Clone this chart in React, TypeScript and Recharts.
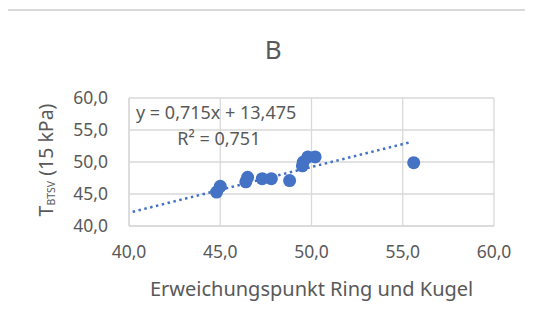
import React from 'react';
import { CartesianGrid, Scatter, ScatterChart, XAxis, YAxis } from 'recharts';

const erweichungspunkt = [44.8, 45.0, 46.4, 46.5, 47.3, 47.8, 48.8, 49.5, 49.55, 49.8, 50.2, 55.6];
const tBtsv = [45.3, 46.2, 46.9, 47.6, 47.4, 47.4, 47.1, 49.4, 50.0, 50.8, 50.8, 49.9];
const axisTicks = [40, 45, 50, 55, 60];
const trendSlope = 0.715;
const trendIntercept = 13.475;
const trendRange = [40.2, 55.5];

const points = erweichungspunkt.map((x, i) => ({ x, y: tBtsv[i] }));
const trend = trendRange.map((x) => ({ x, y: trendSlope * x + trendIntercept }));

const BLUE = '#4472c4';
const GRID = '#d9d9d9';
const TEXT = '#595959';
const FONT = '"Noto Sans", sans-serif';

const fmt = (v: number) => v.toFixed(1).replace('.', ',');

const YTick = (props: any) => (
  <text x={props.x} y={props.y + 6.2} textAnchor="end" fill={TEXT} fontSize={17.5} fontFamily={FONT}>
    {fmt(props.payload.value)}
  </text>
);

const XTick = (props: any) => (
  <text x={props.x} y={props.y + 32} textAnchor="middle" fill={TEXT} fontSize={17.5} fontFamily={FONT}>
    {fmt(props.payload.value)}
  </text>
);

const Dot = (props: any) => <circle cx={props.cx} cy={props.cy} r={6.5} fill={BLUE} />;

export default function App() {
  return (
    <div style={{ position: 'relative', width: 533, height: 325, margin: -8, background: '#fff', fontFamily: FONT }}>
      <div
        style={{
          position: 'absolute', left: 6, top: 9, right: 0, bottom: 0,
          borderTop: `2px solid ${GRID}`, borderLeft: `2px solid ${GRID}`,
        }}
      />
      <ScatterChart width={533} height={325} margin={{ top: 98, right: 39, bottom: 0, left: 0 }}>
        <CartesianGrid stroke={GRID} strokeWidth={1.3} />
        <XAxis
          type="number"
          dataKey="x"
          domain={[40, 60]}
          ticks={axisTicks}
          height={99}
          tickSize={0}
          tickMargin={0}
          axisLine={{ stroke: GRID, strokeWidth: 1.3 }}
          tick={<XTick />}
          label={() => (
            <text x={311.6} y={296} textAnchor="middle" fill={TEXT} fontSize={20} fontFamily={FONT}>
              Erweichungspunkt Ring und Kugel
            </text>
          )}
        />
        <YAxis
          type="number"
          dataKey="y"
          domain={[40, 60]}
          ticks={axisTicks}
          width={129}
          tickSize={0}
          tickMargin={21}
          axisLine={{ stroke: GRID, strokeWidth: 1.3 }}
          tick={<YTick />}
          label={() => (
            <text
              x={53.3}
              y={160}
              transform="rotate(-90, 53.3, 160)"
              textAnchor="middle"
              fill={TEXT}
              fontSize={19.5}
              fontFamily={FONT}
            >
              T<tspan fontSize={10.5} dy={1.5}>BTSV</tspan>
              <tspan dy={-1.5}> (15 kPa)</tspan>
            </text>
          )}
        />
        <Scatter
          data={trend}
          line={{ stroke: BLUE, strokeWidth: 2.5, strokeDasharray: '2.5 3.5' }}
          shape={() => <g />}
          isAnimationActive={false}
        />
        <Scatter data={points} fill={BLUE} shape={<Dot />} isAnimationActive={false} />
      </ScatterChart>
      <svg width={533} height={325} style={{ position: 'absolute', left: 0, top: 0, pointerEvents: 'none' }}>
        <text x={273.3} y={59.3} textAnchor="middle" fill={TEXT} fontSize={26} fontFamily={FONT}>
          B
        </text>
        <text x={136} y={119.3} fill={TEXT} fontSize={18} fontFamily={FONT}>
          y = 0,715x + 13,475
        </text>
        <text x={177.3} y={145} fill={TEXT} fontSize={18} fontFamily={FONT}>
          R² = 0,751
        </text>
      </svg>
    </div>
  );
}
